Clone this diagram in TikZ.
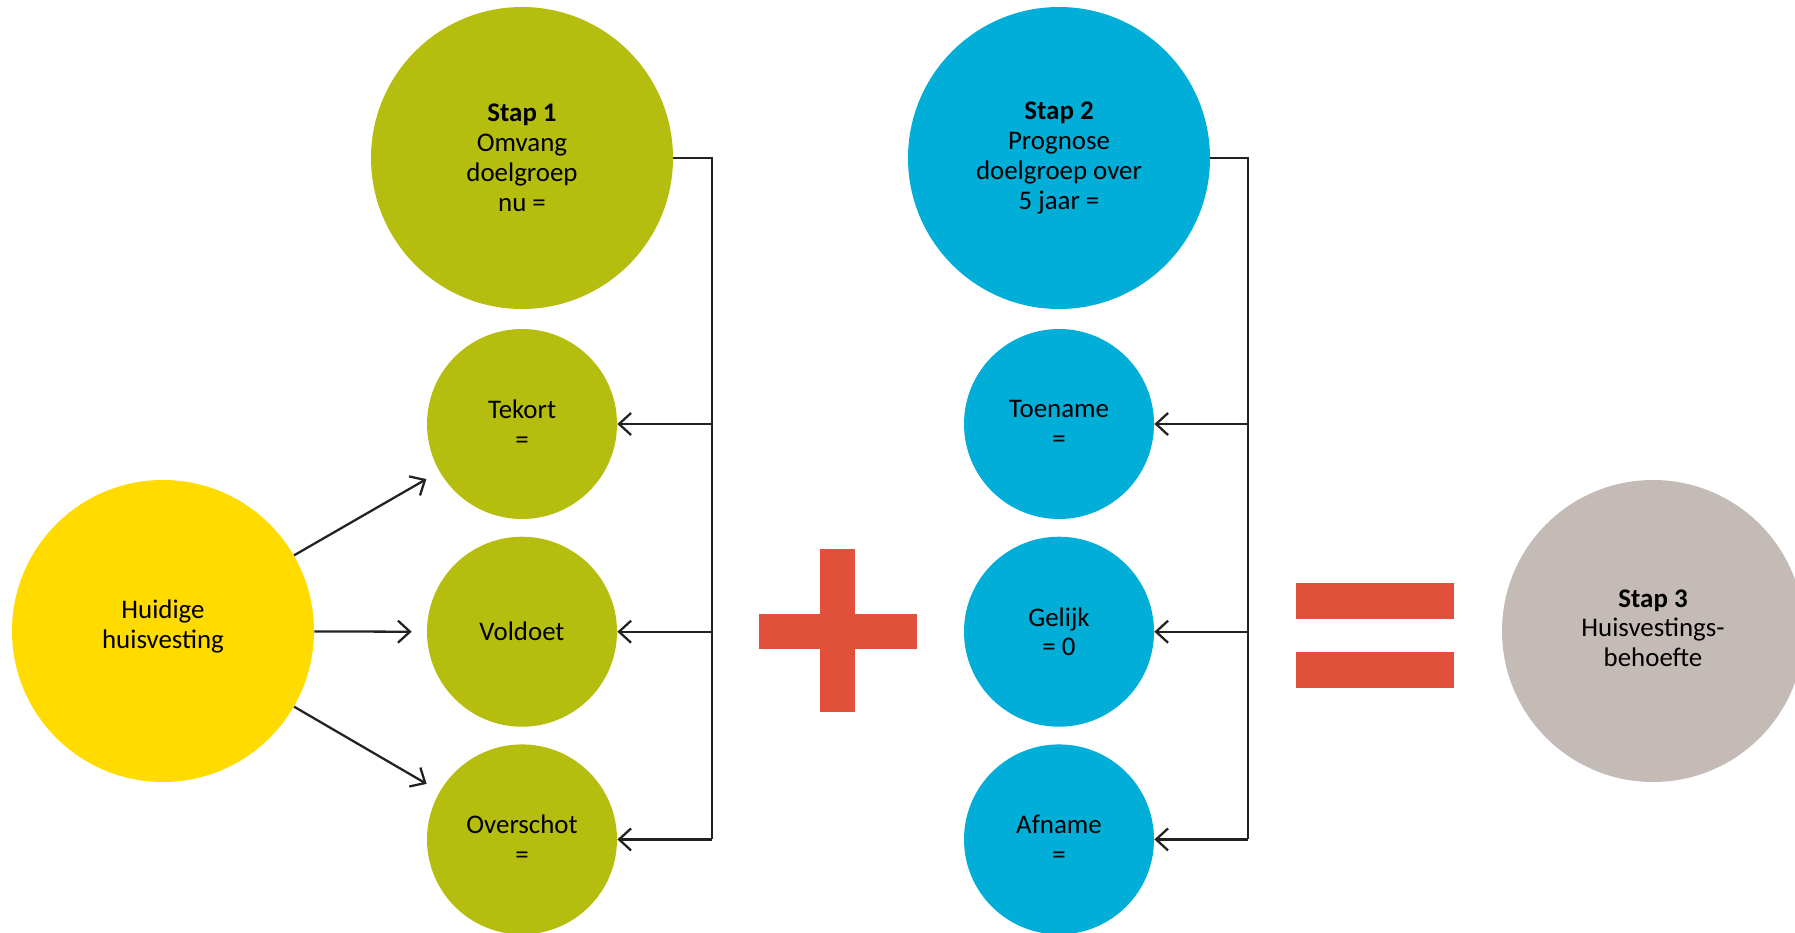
\documentclass[tikz,border=0pt]{standalone}
\usepackage{fontspec}
\setmainfont{Carlito}
\usetikzlibrary{arrows.meta,positioning}
\definecolor{stapgreen}{HTML}{B5BE0F}
\definecolor{stapblue}{HTML}{00AED8}
\definecolor{stapyellow}{HTML}{FFDB00}
\definecolor{stapgrey}{HTML}{C4BBB6}
\definecolor{stapred}{HTML}{E1503A}
\definecolor{lijn}{HTML}{222222}
\tikzset{%
	bigcirc/.style   = {circle, minimum size=60.4mm, inner sep=0pt, align=center, font=\fontsize{15.3}{17}\selectfont}, % step
	smallcirc/.style = {circle, minimum size=38mm, inner sep=0pt, align=center, font=\fontsize{15.3}{17}\selectfont}, % outcome
	bar/.style       = {draw=none, fill=stapred}, % plus and equals
	link/.style      = {draw=lijn, line width=1.3pt},
	arrow/.style     = {link, -{Straight Barb[length=2.4mm, width=4.4mm, line width=1.3pt]}},
}

\begin{document}
\begin{tikzpicture}[x=0.2mm,y=-0.2mm,node distance=3.4mm]
	\useasboundingbox (0,0) rectangle (1795,932);
	\node [bigcirc, fill=stapyellow] (huidig) at (163,631) {Huidige\\huisvesting\\[-0.6em]};
	\node [bigcirc, fill=stapgreen] (stap1) at (522,158) {\textbf{Stap 1}\\Omvang\\doelgroep\\nu =};
	\node [smallcirc, fill=stapgreen] (tekort) at (522,424) {Tekort\\=};
	\node [smallcirc, fill=stapgreen] (voldoet) [below=of tekort] {Voldoet};
	\node [smallcirc, fill=stapgreen] (overschot) [below=of voldoet] {Overschot\\=};
	\node [bigcirc, fill=stapblue] (stap2) at (1059,158) {\textbf{Stap 2}\\Prognose\\doelgroep over\\5 jaar =};
	\node [smallcirc, fill=stapblue] (toename) at (1059,424) {Toename\\=};
	\node [smallcirc, fill=stapblue] (gelijk) [below=of toename] {Gelijk\\= 0};
	\node [smallcirc, fill=stapblue] (afname) [below=of gelijk] {Afname\\=};
	\node [bigcirc, fill=stapgrey] (stap3) at (1653,631) {\textbf{Stap 3}\\Huisvestings-\\behoefte\\[-0.9em]};
	\coordinate (b1) at (712,158);
	\coordinate (b2) at (1248,158);

	% plus and equals
	\fill [bar] (759,614) rectangle (917,649);
	\fill [bar] (820,549) rectangle (855,712);
	\fill [bar] (1296,583) rectangle (1454,619);
	\fill [bar] (1296,652) rectangle (1454,688);

	\draw [arrow, shorten >=3mm] (huidig.30) -- (tekort);
	\draw [arrow] (huidig) -- ([xshift=-3mm]voldoet.west);
	\draw [arrow, shorten >=3mm] (huidig.-30) -- (overschot);

	\draw [link] (stap1.east) -- (b1) -- (b1 |- overschot);
	\draw [arrow] (b1 |- tekort) -- (tekort.east);
	\draw [arrow] (b1 |- voldoet) -- (voldoet.east);
	\draw [arrow] (b1 |- overschot) -- (overschot.east);

	\draw [link] (stap2.east) -- (b2) -- (b2 |- afname);
	\draw [arrow] (b2 |- toename) -- (toename.east);
	\draw [arrow] (b2 |- gelijk) -- (gelijk.east);
	\draw [arrow] (b2 |- afname) -- (afname.east);
\end{tikzpicture}
\end{document}
